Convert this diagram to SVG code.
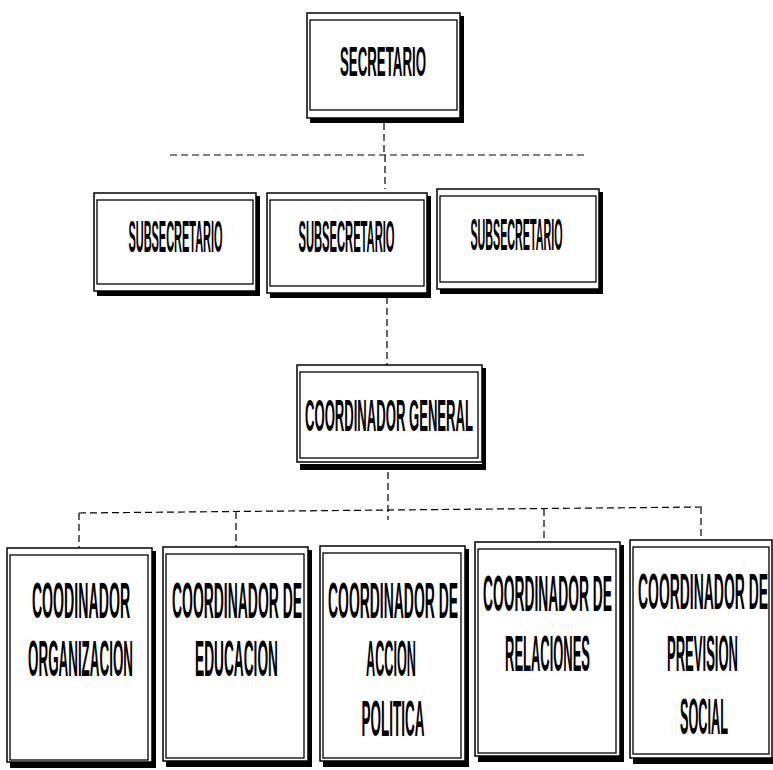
<svg xmlns="http://www.w3.org/2000/svg" width="773" height="770" viewBox="0 0 773 770">
<style>
.frame{fill:#fff;stroke:#000;stroke-width:1.5}
.inner{fill:none;stroke:#000;stroke-width:1.3}
.shadow{fill:#000}
.t{font-family:"Liberation Sans",Arial,sans-serif;font-weight:bold;fill:#000;text-anchor:middle}
.c{fill:none;stroke:#000;stroke-width:1.2;stroke-dasharray:7 4}
</style>
<rect width="773" height="770" fill="#fff"/>
<g id="connectors">
<path class="c" d="M384 123V155M170 155H585M385 155V189"/>
<path class="c" d="M387 297V365"/>
<path class="c" d="M388 472V520M79 513L702 507M79 513V548M236 512V547M544 509V542M701 507V540"/>
</g>
<g id="secretario">
<rect class="frame" x="307" y="13" width="153" height="105"/>
<rect class="inner" x="310" y="20" width="147" height="90"/>
<path class="shadow" d="M310 118H464V123H310ZM460 16H464V123H460Z"/>
<text class="t" font-size="42" transform="translate(383 76) scale(0.316 1)">SECRETARIO</text>
</g>
<g id="sub1">
<rect class="frame" x="94" y="193" width="162" height="98"/>
<rect class="inner" x="97" y="200" width="156" height="84"/>
<path class="shadow" d="M97 291H260V296H97ZM256 196H260V296H256Z"/>
<text class="t" font-size="45" transform="translate(175.5 252) scale(0.2436 1)">SUBSECRETARIO</text>
</g>
<g id="sub2">
<rect class="frame" x="267" y="193" width="160" height="100"/>
<rect class="inner" x="270" y="200" width="154" height="86"/>
<path class="shadow" d="M270 293H431V298H270ZM427 196H431V298H427Z"/>
<text class="t" font-size="45" transform="translate(346.5 252) scale(0.2487 1)">SUBSECRETARIO</text>
</g>
<g id="sub3">
<rect class="frame" x="437" y="189" width="162" height="100"/>
<rect class="inner" x="440" y="196" width="156" height="86"/>
<path class="shadow" d="M440 289H603V294H440ZM599 192H603V294H599Z"/>
<text class="t" font-size="45" transform="translate(516.5 250) scale(0.2385 1)">SUBSECRETARIO</text>
</g>
<g id="coordgen">
<rect class="frame" x="297" y="365" width="185" height="97"/>
<rect class="inner" x="300" y="372" width="178" height="86"/>
<path class="shadow" d="M300 464H486V470H300ZM482 368H486V470H482Z"/>
<text class="t" font-size="45" transform="translate(389 431) scale(0.291 1)">COORDINADOR GENERAL</text>
</g>
<g id="c1">
<rect class="frame" x="7" y="548" width="145" height="214"/>
<rect class="inner" x="10" y="555" width="138" height="205"/>
<path class="shadow" d="M10 762H156V768H10ZM152 551H156V768H152Z"/>
<text class="t" font-size="50" transform="translate(81 618) scale(0.283 1)">COODINADOR</text>
<text class="t" font-size="50" transform="translate(80.5 676) scale(0.268 1)">ORGANIZACION</text>
</g>
<g id="c2">
<rect class="frame" x="163" y="547" width="145" height="214"/>
<rect class="inner" x="166" y="554" width="138" height="204"/>
<path class="shadow" d="M166 761H312V767H166ZM308 550H312V767H308Z"/>
<text class="t" font-size="50" transform="translate(237 618) scale(0.2786 1)">COORDINADOR DE</text>
<text class="t" font-size="50" transform="translate(236.5 676) scale(0.274 1)">EDUCACION</text>
</g>
<g id="c3">
<rect class="frame" x="320" y="546" width="145" height="215"/>
<rect class="inner" x="323" y="553" width="138" height="205"/>
<path class="shadow" d="M323 761H469V767H323ZM465 549H469V767H465Z"/>
<text class="t" font-size="50" transform="translate(393 618) scale(0.2786 1)">COORDINADOR DE</text>
<text class="t" font-size="50" transform="translate(391 676) scale(0.2535 1)">ACCION</text>
<text class="t" font-size="50" transform="translate(393 736) scale(0.27 1)">POLITICA</text>
</g>
<g id="c4">
<rect class="frame" x="475" y="542" width="145" height="214"/>
<rect class="inner" x="478" y="549" width="138" height="204"/>
<path class="shadow" d="M478 756H624V762H478ZM620 545H624V762H620Z"/>
<text class="t" font-size="50" transform="translate(547.5 611) scale(0.2764 1)">COORDINADOR DE</text>
<text class="t" font-size="50" transform="translate(547.5 671) scale(0.259 1)">RELACIONES</text>
</g>
<g id="c5">
<rect class="frame" x="630" y="540" width="142" height="218"/>
<rect class="inner" x="633" y="547" width="136" height="207"/>
<path class="shadow" d="M633 758H773V764H633Z"/>
<text class="t" font-size="50" transform="translate(703 609) scale(0.2786 1)">COORDINADOR DE</text>
<text class="t" font-size="50" transform="translate(702.5 671) scale(0.261 1)">PREVISION</text>
<text class="t" font-size="50" transform="translate(704 734) scale(0.254 1)">SOCIAL</text>
</g>
</svg>
